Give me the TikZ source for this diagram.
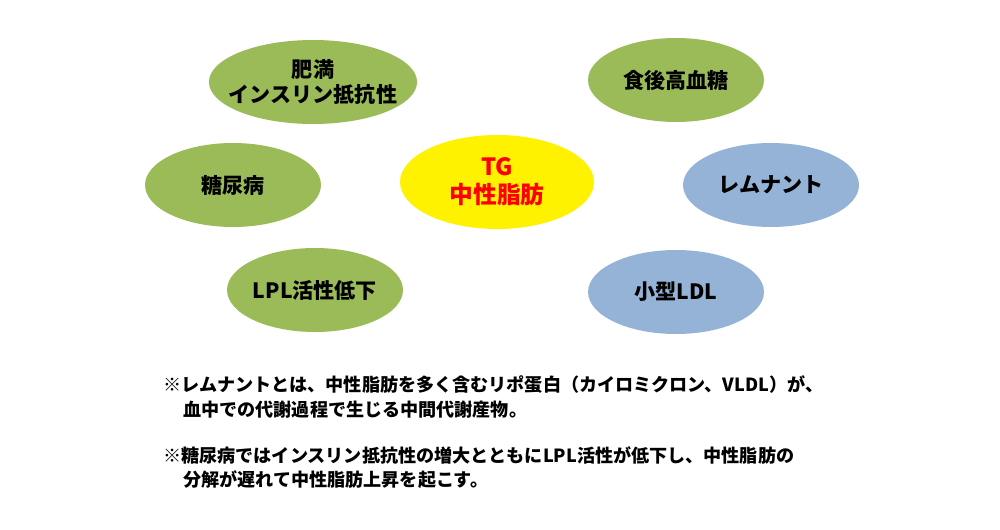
\documentclass[tikz,border=0pt]{standalone}
\usepackage{fontspec}
\setmainfont{Noto Sans CJK JP}
\usetikzlibrary{shapes.geometric}
\definecolor{gr}{HTML}{9BBB59}
\definecolor{bl}{HTML}{95B3D7}
\definecolor{yl}{HTML}{FFF200}
\tikzset{
 ell/.style={ellipse,minimum width=3.52cm,minimum height=1.68cm,inner sep=0pt,align=center,font=\fontsize{12}{14}\selectfont\bfseries},
 g/.style={ell,fill=gr},
 b/.style={ell,fill=bl},
 note/.style={anchor=west,inner sep=0pt,font=\fontsize{10.3}{11}\selectfont\bfseries}
}
\begin{document}
\begin{tikzpicture}[x=0.02cm,y=-0.02cm]
\useasboundingbox (0,0) rectangle (1000,530);
\node[g,minimum width=3.6cm,inner xsep=-6pt] (a) at (313,82) {肥満\\インスリン抵抗性};
\node[g] (b) at (676,80) {食後高血糖};
\node[g] (c) at (233,185) {糖尿病};
\node[ell,fill=yl,minimum width=3.88cm,minimum height=1.88cm,text=red,font=\fontsize{13.5}{16}\selectfont\bfseries] (t) at (497,182) {TG\\中性脂肪};
\node[b] (d) at (771,185) {レムナント};
\node[g] (e) at (315,290) {LPL活性低下};
\node[b] (f) at (676,292) {小型LDL};
\node[note] (n1) at (163,385) {※レムナントとは、中性脂肪を多く含むリポ蛋白（カイロミクロン、VLDL）が、};
\node[note] (n2) at (183,410) {血中での代謝過程で生じる中間代謝産物。};
\node[note] (n3) at (163,455) {※糖尿病ではインスリン抵抗性の増大とともにLPL活性が低下し、中性脂肪の};
\node[note] (n4) at (183,480) {分解が遅れて中性脂肪上昇を起こす。};
\end{tikzpicture}
\end{document}
